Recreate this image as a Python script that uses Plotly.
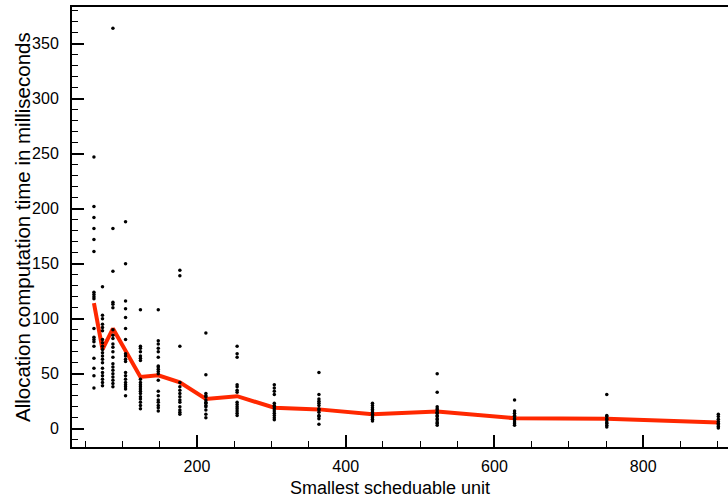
import plotly.graph_objects as go

# x positions of the measurement columns (smallest schedulable unit)
unit_sizes = [61.5, 73, 87, 104, 124, 148, 177, 212, 254, 304, 364, 436, 523, 627, 751, 901]

# individual measurements (ms) per column
times_1 = [247, 202, 192, 182, 172, 161, 124, 122, 120, 118, 91, 83, 81, 79, 75, 64, 55, 48, 37]
times_2 = [129, 103, 100, 95, 92, 89, 81, 78, 75, 72, 69, 66, 63, 60, 55, 51, 48, 45, 42, 39]
times_3 = [364, 182, 143, 115, 113, 110, 90, 85, 82, 77, 74, 70, 65, 59, 56, 53, 50, 47, 44, 41, 38]
times_4 = [188, 150, 116, 109, 101, 91, 81, 68, 66, 63, 61, 51, 48, 45, 42, 40, 38, 36, 30]
times_5 = [108, 75, 73, 70, 66, 64, 62, 45, 42, 40, 38, 36, 34, 32, 29, 27, 24, 21, 18]
times_6 = [108, 80, 77, 73, 70, 65, 57, 56, 54, 52, 50, 44, 34, 30, 26, 24, 21, 19, 16]
times_7 = [144, 139, 75, 42, 38, 35, 32, 29, 26, 24, 20, 17, 15, 13]
times_8 = [87, 49, 32, 30, 29, 26, 24, 23, 21, 20, 17, 13, 10]
times_9 = [75, 68, 65, 40, 38, 35, 33, 24, 22, 20, 18, 16, 14, 12]
times_10 = [40, 37, 34, 31, 23, 21, 20, 18, 16, 14, 12, 10, 8]
times_11 = [51, 31, 27, 25, 23, 21, 18, 17, 15, 12, 11, 9, 4]
times_12 = [23, 21, 19, 17.5, 16, 14.5, 13, 11.5, 10, 8.5, 7]
times_13 = [50, 33, 20, 18, 17, 15, 14, 12, 11, 9, 8, 6, 5, 3]
times_14 = [26, 16, 14, 12, 11, 9, 8, 6, 4.5, 3]
times_15 = [31, 12, 11, 9, 8, 6, 5, 3, 1.5]
times_16 = [13, 11, 8.5, 6.5, 5, 3.5, 2, 0.5]

# red summary line
mean_times = [114, 72, 91, 70, 47, 48.5, 42, 27, 29.5, 19, 17.5, 13, 15.5, 9.5, 9, 5.5]

all_times = [times_1, times_2, times_3, times_4, times_5, times_6, times_7, times_8,
             times_9, times_10, times_11, times_12, times_13, times_14, times_15, times_16]

xs, ys = [], []
for u, col in zip(unit_sizes, all_times):
    for t in col:
        xs.append(u)
        ys.append(t)

FONT = "Liberation Sans, Arial, Helvetica, sans-serif"

fig = go.Figure()
fig.add_trace(go.Scatter(x=unit_sizes, y=mean_times, mode="lines",
                         line=dict(color="rgb(255,40,0)", width=4), hoverinfo="skip"))
fig.add_trace(go.Scatter(x=xs, y=ys, mode="markers",
                         marker=dict(color="black", size=3.5, line=dict(width=0))))

fig.update_layout(
    width=728, height=502,
    margin=dict(l=72, r=0, t=7, b=55),
    paper_bgcolor="white", plot_bgcolor="white",
    showlegend=False,
    font=dict(family=FONT, color="black", size=15),
    xaxis=dict(
        range=[32, 914], showgrid=False, zeroline=False,
        showline=True, linecolor="black", linewidth=2, mirror=True,
        ticks="inside", ticklen=12, tickwidth=2, tickcolor="black",
        tick0=0, dtick=200,
        minor=dict(ticks="inside", ticklen=6, tickwidth=1, tickcolor="black", dtick=50, tick0=0),
        tickfont=dict(size=16, family=FONT),
        ticklabelstandoff=4,
    ),
    yaxis=dict(
        range=[-16.7, 383.3], showgrid=False, zeroline=False,
        showline=True, linecolor="black", linewidth=2, mirror=False,
        ticks="inside", ticklen=12, tickwidth=2, tickcolor="black",
        tick0=0, dtick=50,
        minor=dict(ticks="inside", ticklen=6, tickwidth=1, tickcolor="black", dtick=10, tick0=0),
        tickfont=dict(size=16, family=FONT),
        ticklabelstandoff=8,
    ),
    annotations=[
        dict(text="Smallest scheduable unit", xref="paper", yref="paper",
             x=0.485, y=0, yshift=-41, xanchor="center", yanchor="middle",
             showarrow=False, font=dict(size=18, family=FONT, color="black")),
        dict(text="Allocation computation time in milliseconds", xref="paper", yref="paper",
             x=0, y=0.5, xshift=-50, xanchor="center", yanchor="middle", textangle=-90,
             showarrow=False, font=dict(size=20.5, family=FONT, color="black")),
    ],
)

fig.write_html("out.html")
